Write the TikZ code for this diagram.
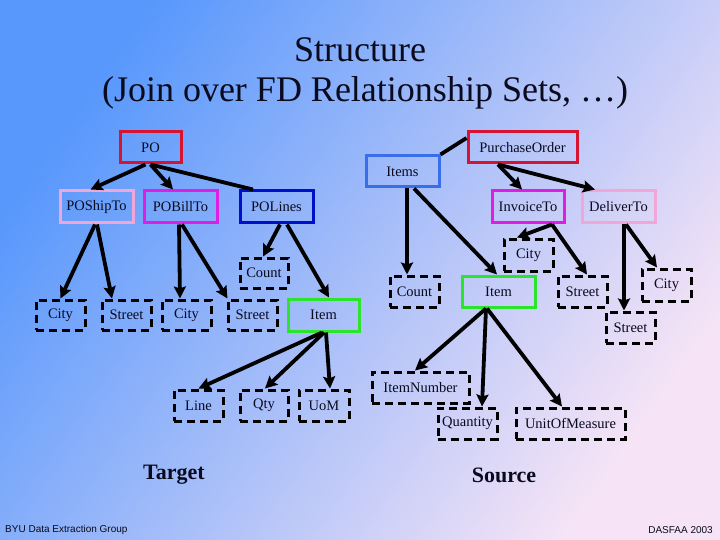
\documentclass[tikz,border=0pt]{standalone}
\usepackage{fontspec}
\setmainfont{Liberation Serif}
\newfontfamily\footfont{Liberation Sans}
\usetikzlibrary{arrows.meta}
\definecolor{bgA}{RGB}{88,152,252}
\definecolor{bgB}{RGB}{158,196,244}
\definecolor{bgC}{RGB}{246,228,246}
\definecolor{cred}{RGB}{214,20,50}
\definecolor{cpink}{RGB}{240,166,214}
\definecolor{cmag}{RGB}{222,30,226}
\definecolor{cdblue}{RGB}{0,16,200}
\definecolor{cblue}{RGB}{56,110,232}
\definecolor{cgreen}{RGB}{44,228,44}
\definecolor{ink}{RGB}{10,10,30}
\tikzset{
  lbl/.style={font=\fontsize{14.5}{16}\selectfont, text=ink, inner sep=0pt},
  solidbox/.style={lbl, draw, line width=3pt},
  dashbox/.style={lbl, draw=black, line width=3pt, dash pattern=on 8pt off 5pt},
  arr/.style={line width=3.8pt, -{Stealth[length=12pt,width=12pt,inset=2pt]}},
  ln/.style={line width=3.8pt},
}
\begin{document}
\begin{tikzpicture}[x=1pt,y=-1pt]
\useasboundingbox (0,0) rectangle (720,540);
\shade[top color=bgA, middle color=bgB, bottom color=bgC, shading angle=55] (0,0) rectangle (720,540);

% title
\node[font=\fontsize{36}{40}\selectfont, text=ink] (t1) at (360,50) {Structure};
\node[font=\fontsize{36}{40}\selectfont, text=ink] (t2) at (365,93) {(Join over FD Relationship Sets, \dots)};

% target side
\node[solidbox, draw=cred, minimum width=61pt, minimum height=31pt] (po) at (150.5,147.5) {PO};
\node[solidbox, draw=cpink, minimum width=73pt, minimum height=32pt] (ship) at (96.5,207) {POShipTo};
\node[solidbox, draw=cmag, minimum width=73pt, minimum height=32pt] (bill) at (180.5,207) {POBillTo};
\node[solidbox, draw=cdblue, minimum width=73pt, minimum height=32pt] (lines) at (276.5,207) {POLines};
\node[dashbox, minimum width=49pt, minimum height=30pt] (cityA) at (60.5,315) {City};
\node[dashbox, minimum width=49pt, minimum height=30pt] (streetA) at (126.5,315) {Street};
\node[dashbox, minimum width=49pt, minimum height=30pt] (cityB) at (186.5,315) {City};
\node[dashbox, minimum width=49pt, minimum height=30pt] (streetB) at (252.5,315) {Street};
\node[dashbox, minimum width=48pt, minimum height=30pt] (countT) at (264,273) {Count};
\node[solidbox, draw=cgreen, minimum width=71pt, minimum height=32pt] (itemT) at (323.5,315) {Item};
\node[dashbox, minimum width=49pt, minimum height=31pt] (lineT) at (198.5,405.5) {Line};
\node[dashbox, minimum width=48pt, minimum height=31pt] (qtyT) at (264,405.5) {Qty};
\node[dashbox, minimum width=50pt, minimum height=31pt] (uomT) at (324,405.5) {UoM};

% source side
\node[solidbox, draw=cred, minimum width=109pt, minimum height=31pt] (pur) at (522.5,147.5) {PurchaseOrder};
\node[solidbox, draw=cblue, minimum width=73pt, minimum height=31pt] (items) at (402.5,171.5) {Items};
\node[solidbox, draw=cmag, minimum width=72pt, minimum height=32pt] (inv) at (528,207) {InvoiceTo};
\node[solidbox, draw=cpink, minimum width=73pt, minimum height=32pt] (dlv) at (618.5,207) {DeliverTo};
\node[dashbox, minimum width=49pt, minimum height=31pt] (countS) at (414.5,291.5) {Count};
\node[solidbox, draw=cgreen, minimum width=73pt, minimum height=31pt] (itemS) at (498.5,291.5) {Item};
\node[dashbox, minimum width=49pt, minimum height=32pt] (cityC) at (528.5,255) {City};
\node[dashbox, minimum width=49pt, minimum height=31pt] (streetC) at (582.5,291.5) {Street};
\node[dashbox, minimum width=49pt, minimum height=32pt] (cityD) at (666.5,285) {City};
\node[dashbox, minimum width=49pt, minimum height=31pt] (streetD) at (630.5,327.5) {Street};
\node[dashbox, minimum width=97pt, minimum height=31pt] (inum) at (420.5,387.5) {ItemNumber};
\node[dashbox, minimum width=59pt, minimum height=31pt] (quant) at (467.5,423.5) {Quantity};
\node[dashbox, minimum width=109pt, minimum height=31pt] (unit) at (570.5,423.5) {UnitOfMeasure};

% target connectors
\draw[arr] ([xshift=-5pt]po.south) -- ([xshift=-6pt]ship.north);
\draw[arr] ([xshift=0pt]po.south) -- ([xshift=-7.5pt]bill.north);
\draw[ln] ([xshift=0pt]po.south) -- ([xshift=-23.5pt]lines.north);
\draw[arr] ([xshift=-1.5pt]ship.south) -- (cityA.north);
\draw[arr] ([xshift=0.5pt]ship.south) -- ([xshift=-14.5pt]streetA.north);
\draw[arr] ([xshift=-1.5pt]bill.south) -- ([xshift=-6.5pt]cityB.north);
\draw[arr] ([xshift=1.5pt]bill.south) -- ([xshift=1pt]streetB.north west);
\draw[arr] ([xshift=3.5pt]lines.south) -- ([xshift=-1pt]countT.north);
\draw[arr] ([xshift=10.5pt]lines.south) -- ([xshift=5.5pt]itemT.north);
\draw[arr] ([xshift=-1.5pt]itemT.south) -- (lineT.north);
\draw[arr] ([xshift=0.5pt]itemT.south) -- ([xshift=1pt]qtyT.north);
\draw[arr] ([xshift=2.5pt]itemT.south) -- ([xshift=6pt]uomT.north);

% source connectors
\draw[ln] ([yshift=9.5pt]pur.west) -- (items.north east);
\draw[arr] ([xshift=-24.5pt]pur.south) -- ([xshift=-6pt]inv.north);
\draw[arr] ([xshift=-24.5pt]pur.south) -- ([xshift=-23.5pt]dlv.north);
\draw[arr] ([xshift=4.5pt]items.south) -- ([xshift=-7.5pt]countS.north);
\draw[arr] ([xshift=11.5pt]items.south) -- ([xshift=-1.5pt]itemS.north);
\draw[arr] ([xshift=24pt]inv.south) -- ([xshift=-11.5pt]cityC.north);
\draw[arr] ([xshift=24pt]inv.south) -- ([xshift=4.5pt]streetC.north);
\draw[arr] ([xshift=5.5pt]dlv.south) -- ([xshift=-6.5pt]streetD.north);
\draw[arr] ([xshift=7.5pt]dlv.south) -- ([xshift=-9.5pt]cityD.north);
\draw[arr] ([xshift=-12.5pt]itemS.south) -- ([xshift=-5.5pt]inum.north);
\draw[arr] ([xshift=-12.5pt]itemS.south) -- ([xshift=14.5pt]quant.north);
\draw[arr] ([xshift=-11.5pt]itemS.south) -- ([xshift=-8.5pt]unit.north);

% captions
\node[font=\fontsize{22}{24}\selectfont\bfseries, text=ink] (target) at (174,475) {Target};
\node[font=\fontsize{22}{24}\selectfont\bfseries, text=ink] (source) at (504,475) {Source};
\node[font=\footfont\fontsize{10}{12}\selectfont, text=ink, anchor=west, inner sep=0pt] (byu) at (5,530) {BYU Data Extraction Group};
\node[font=\footfont\fontsize{10}{12}\selectfont, text=ink, anchor=east, inner sep=0pt] (das) at (713,530) {DASFAA 2003};
\end{tikzpicture}
\end{document}
